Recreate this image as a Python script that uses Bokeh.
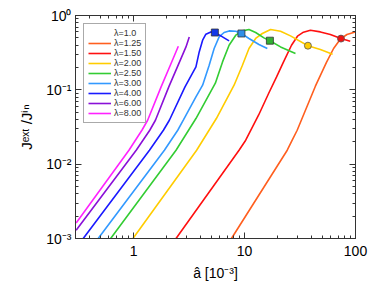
from bokeh.plotting import figure
from bokeh.models import (LogAxis, FixedTicker, CustomJSTickFormatter, Legend,
                          LegendItem, Range1d)
from bokeh.embed import file_html
from bokeh.resources import INLINE

# ---- data ----
labels = ["λ=1.0", "λ=1.25", "λ=1.50", "λ=2.00", "λ=2.50",
          "λ=3.00", "λ=4.00", "λ=6.00", "λ=8.00"]
colors = ["#9e3d3d", "#ff5f1f", "#ff1010", "#ffcc00", "#33cc33",
          "#3399ff", "#1a1aff", "#8a10d8", "#ff22ff"]

x_l100 = []
y_l100 = []

x_l125 = [7.628, 24.26, 26.89, 29.82, 43.51, 54.61, 63.48, 72.91, 83.73, 99.38]
y_l125 = [0.001, 0.0154, 0.0210, 0.0286, 0.1119, 0.2317, 0.3597, 0.4801, 0.5551, 0.6016]

x_l150 = [2.415, 8.926, 10.25, 13.41, 16.48, 19.45, 22.47, 26.51, 30.01,
          33.96, 39.25, 48.24, 59.32, 73.98, 89.66]
y_l150 = [0.001, 0.0154, 0.0210, 0.0459, 0.0893, 0.1493, 0.2376, 0.3981,
          0.5267, 0.5960, 0.6340, 0.6016, 0.5551, 0.4889, 0.4510]

x_l200 = [0.988, 3.703, 5.575, 8.052, 9.576, 10.97, 12.60, 14.47, 17.18, 21.12,
          25.96, 37.26, 48.24, 62.20]
y_l200 = [0.001, 0.0154, 0.0411, 0.1154, 0.2143, 0.3597, 0.4909, 0.5728, 0.6479,
          0.6148, 0.5316, 0.3925, 0.3487, 0.3015]

x_l250 = [0.622, 2.415, 3.650, 5.461, 6.337, 7.261, 8.339, 9.576, 10.97, 12.60,
          14.96, 16.93, 21.12, 28.79]
y_l250 = [0.001, 0.0154, 0.0411, 0.1228, 0.2376, 0.3981, 0.5433, 0.6205, 0.6479,
          0.5902, 0.5000, 0.4581, 0.378, 0.3083]

x_l300 = [0.480, 1.897, 2.502, 2.808, 3.650, 4.193, 4.804, 5.326, 5.906, 6.549,
          7.261, 8.339, 9.380, 10.97, 13.49, 16.05]
y_l300 = [0.001, 0.0154, 0.0286, 0.0390, 0.0803, 0.1154, 0.2143, 0.3597, 0.5152,
          0.5902, 0.6205, 0.6148, 0.5728, 0.4909, 0.4070, 0.3597]

x_l400 = [0.352, 1.392, 1.858, 2.103, 2.909, 3.650, 3.907, 4.193, 4.487, 4.976,
          5.404, 6.116, 7.261]
y_l400 = [0.001, 0.0154, 0.0286, 0.0390, 0.1095, 0.2035, 0.3237, 0.4656, 0.5603,
          0.6016, 0.5902, 0.5316, 0.4552]

x_l600 = [0.304, 1.057, 1.40, 1.575, 2.078, 2.639, 2.969, 3.178]
y_l600 = [0.00129, 0.0154, 0.0286, 0.0390, 0.1095, 0.2505, 0.378, 0.515]

x_l800 = [0.304, 0.909, 1.19, 1.34, 1.772, 2.178, 2.533]
y_l800 = [0.00162, 0.0154, 0.0286, 0.0390, 0.1095, 0.226, 0.386]

series_x = [x_l100, x_l125, x_l150, x_l200, x_l250, x_l300, x_l400, x_l600, x_l800]
series_y = [y_l100, y_l125, y_l150, y_l200, y_l250, y_l300, y_l400, y_l600, y_l800]

# highlighted points
sq_x = [5.404, 9.380, 16.93]
sq_y = [0.5902, 0.5728, 0.4581]
sq_c = ["#1438e8", "#2f8fe8", "#33b033"]
ci_x = [37.26, 73.98]
ci_y = [0.3925, 0.4889]
ci_c = ["#ffcc00", "#ee1111"]

x_major = [1, 10, 100]
x_minor = [0.3, 0.4, 0.5, 0.6, 0.7, 0.8, 0.9, 2, 3, 4, 5, 6, 7, 8, 9,
           20, 30, 40, 50, 60, 70, 80, 90]
y_major = [1e-3, 1e-2, 1e-1, 1]
y_minor = [m * d for d in (1e-3, 1e-2, 1e-1) for m in range(2, 10)]

FONT = "Liberation Sans"

p = figure(x_axis_type="log", y_axis_type="log",
           x_range=Range1d(0.3, 100), y_range=Range1d(1e-3, 1),
           frame_width=280, frame_height=223,
           min_border_left=75, min_border_right=16,
           min_border_top=15, min_border_bottom=57,
           output_backend="svg", toolbar_location=None)
p.xgrid.visible = False
p.ygrid.visible = False
p.outline_line_color = "#333333"
p.background_fill_color = "white"
p.border_fill_color = "white"

renderers = []
for xs, ys, c in zip(series_x, series_y, colors):
    r = p.line(xs, ys, line_color=c, line_width=1.6)
    renderers.append(r)

p.scatter(sq_x, sq_y, marker="square", size=7, fill_color=sq_c,
          line_color="#333333", line_width=0.8)
p.scatter(ci_x, ci_y, marker="circle", size=7, fill_color=ci_c,
          line_color="#555555", line_width=0.8)

sup_code = """
const s = {'-':'\u207b','0':'\u2070','1':'\u00b9','2':'\u00b2','3':'\u00b3',
           '4':'\u2074','5':'\u2075','6':'\u2076','7':'\u2077','8':'\u2078','9':'\u2079'};
const e = Math.round(Math.log10(tick));
return '10' + String(e).split('').map(c => s[c]).join('');
"""

def style_axis(ax):
    ax.axis_line_color = "#333333"
    ax.major_tick_line_color = "#333333"
    ax.minor_tick_line_color = "#333333"
    ax.major_tick_in = 6
    ax.major_tick_out = 0
    ax.minor_tick_in = 3
    ax.minor_tick_out = 0
    ax.major_label_text_font = FONT
    ax.major_label_text_font_size = "14px"
    ax.major_label_text_color = "black"
    ax.axis_label_text_font = FONT
    ax.axis_label_text_font_size = "14px"
    ax.axis_label_text_font_style = "normal"
    ax.axis_label_text_color = "black"

xa = p.xaxis[0]
xa.ticker = FixedTicker(ticks=x_major, minor_ticks=x_minor)
xa.formatter = CustomJSTickFormatter(code="return String(Math.round(tick));")
style_axis(xa)
xa.major_label_standoff = 7
xa.axis_label = "â [10⁻³]"
xa.axis_label_standoff = 6

ya = p.yaxis[0]
ya.ticker = FixedTicker(ticks=y_major, minor_ticks=y_minor)
ya.formatter = CustomJSTickFormatter(code=sup_code)
style_axis(ya)
ya.major_label_standoff = 4
ya.axis_label = "Jᵉˣᵗ /Jⁱⁿ"
ya.axis_label_text_font_size = "15px"
ya.axis_label_standoff = 8

for place, tk, mn in (("above", x_major, x_minor), ("right", y_major, y_minor)):
    ax = LogAxis(ticker=FixedTicker(ticks=tk, minor_ticks=mn),
                 formatter=CustomJSTickFormatter(code="return '';"))
    style_axis(ax)
    ax.major_label_text_font_size = "0px"
    ax.major_label_standoff = 0
    p.add_layout(ax, place)

legend = Legend(items=[LegendItem(label=l, renderers=[r]) for l, r in zip(labels, renderers)],
                location="top_left", margin=8, padding=4, spacing=0,
                glyph_height=10, glyph_width=23, label_height=10,
                label_standoff=3, label_text_font=FONT,
                label_text_font_size="9px", label_text_color="#333333",
                border_line_color="#555555", border_line_width=1,
                background_fill_color="white", background_fill_alpha=1)
p.add_layout(legend)

open("out.html", "w").write(file_html(p, INLINE))
